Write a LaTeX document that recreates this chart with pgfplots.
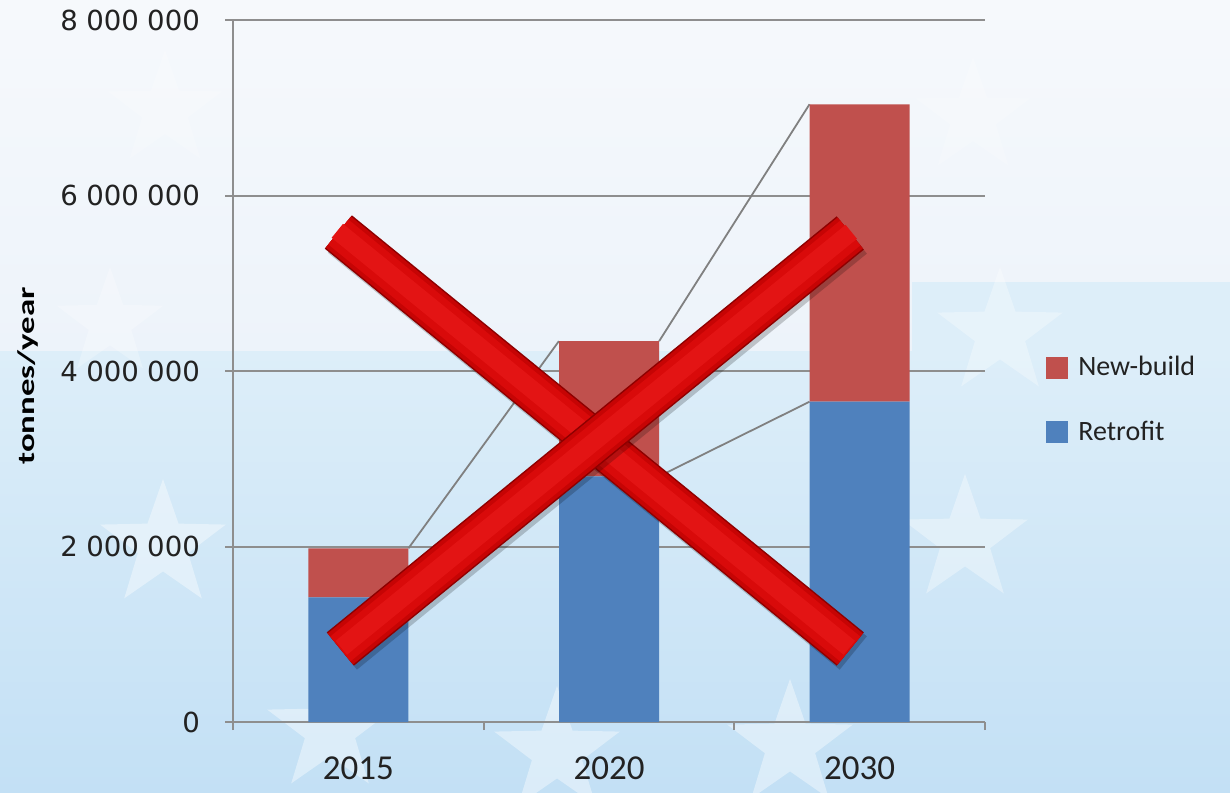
\documentclass[border=0pt]{standalone}
\usepackage{fontspec}
\setmainfont{Carlito}
\newfontfamily\dejavu{DejaVu Sans}
\usepackage{graphicx}
\usepackage{pgfplots}
\pgfplotsset{compat=1.18}
\usetikzlibrary{shapes.geometric}
\definecolor{barblue}{HTML}{4F81BD}
\definecolor{barred}{HTML}{C0504D}
\definecolor{gridgray}{HTML}{8E8E8E}
\definecolor{bgtop}{HTML}{F6F9FC}
\definecolor{bgmid}{HTML}{EDF3FA}
\definecolor{bglow1}{HTML}{DDEEF9}
\definecolor{bglow2}{HTML}{C3E0F5}
\definecolor{xedge}{HTML}{8E0000}
\definecolor{xmid}{HTML}{C60404}
\definecolor{xred}{HTML}{D90A0A}
\definecolor{xcore}{HTML}{E31414}
\definecolor{txt}{HTML}{222222}
\begin{document}
\begin{tikzpicture}[x=1pt,y=1pt]
\useasboundingbox (0,0) rectangle (615,396);
% background
\shade[top color=bgtop, bottom color=bgmid] (0,220) rectangle (615,396);
\shade[top color=bglow1, bottom color=bglow2] (0,0) rectangle (615,220);
\fill[bglow1] (456,220) rectangle (615,255);
% faint stars
\begin{scope}
\clip (0,0) rectangle (615,396);
\tikzset{bgstar/.style={star, star points=5, star point ratio=2.5, fill=white, draw=none, inner sep=0pt}}
\node[bgstar, opacity=0.40, minimum size=66pt] at (81.5,123.5) {};
\node[bgstar, opacity=0.25, minimum size=56pt] at (55,234.5) {};
\node[bgstar, opacity=0.20, minimum size=60pt] at (82.5,341) {};
\node[bgstar, opacity=0.40, minimum size=66pt] at (165,31) {};
\node[bgstar, opacity=0.40, minimum size=66pt] at (278.5,20) {};
\node[bgstar, opacity=0.40, minimum size=66pt] at (395,23.5) {};
\node[bgstar, opacity=0.35, minimum size=66pt] at (482.5,126) {};
\node[bgstar, opacity=0.30, minimum size=66pt] at (500,229.5) {};
\node[bgstar, opacity=0.20, minimum size=60pt] at (486.5,337.5) {};
\end{scope}
\begin{axis}[
  at={(116.5pt,35pt)}, anchor=south west,
  scale only axis, width=376pt, height=351pt,
  xmin=-0.5, xmax=2.5, ymin=0, ymax=8000000,
  ybar stacked, bar width=50pt,
  axis x line*=bottom, axis y line*=left,
  axis line style={gridgray, line width=1pt},
  ymajorgrids, grid style={gridgray, line width=1pt},
  tick align=outside,
  ytick={0,2000000,4000000,6000000,8000000},
  yticklabels={0,2\hspace{0.3em}000\hspace{0.3em}000,4\hspace{0.3em}000\hspace{0.3em}000,6\hspace{0.3em}000\hspace{0.3em}000,8\hspace{0.3em}000\hspace{0.3em}000},
  scaled y ticks=false,
  major tick length=4pt, minor tick length=4pt,
  ytick style={gridgray, line width=1pt},
  xtick={0,1,2}, xticklabels={2015,2020,2030},
  major x tick style={draw=none},
  minor xtick={-0.5,0.5,1.5,2.5},
  minor x tick style={gridgray, line width=1pt},
  yticklabel style={font=\dejavu\fontsize{13.8}{15}\selectfont, text=txt, xshift=-9pt},
  xticklabel style={font=\fontsize{17.5}{19}\selectfont, text=txt, yshift=-10pt},
  ylabel={\scalebox{1.45}[1]{\bfseries tonnes/year}},
  ylabel style={at={(axis description cs:-0.272,0.493)}, anchor=center, font=\fontsize{12}{13}\selectfont, text=black},
  legend image code/.code={\fill[#1] (0pt,-5.5pt) rectangle (11pt,5.5pt);},
  reverse legend,
  legend style={at={(rel axis cs:1.081,0.459)}, anchor=west, draw=none, fill=none,
    font=\fontsize{14}{16}\selectfont, text=txt, row sep=17pt, inner sep=0pt,
    /tikz/every even column/.append style={column sep=0pt}},
  legend cell align=left,
]
\addplot[fill=barblue, draw=none] coordinates {(0,1420000) (1,2800000) (2,3650000)};
\addlegendentry{\hspace{3pt}Retrofit}
\addplot[fill=barred, draw=none] coordinates {(0,560000) (1,1540000) (2,3390000)};
\addlegendentry{\hspace{3pt}New-build}
% series lines
\addplot[sharp plot, stack plots=false, draw=gridgray!90!black, line width=0.9pt, forget plot] coordinates {(0.2,1980000) (0.8,4340000)};
\addplot[sharp plot, stack plots=false, draw=gridgray!90!black, line width=0.9pt, forget plot] coordinates {(1.2,4340000) (1.8,7040000)};
\addplot[sharp plot, stack plots=false, draw=gridgray!90!black, line width=0.9pt, forget plot] coordinates {(0.2,1420000) (0.8,2800000)};
\addplot[sharp plot, stack plots=false, draw=gridgray!90!black, line width=0.9pt, forget plot] coordinates {(1.2,2800000) (1.8,3650000)};
% anchor points of the red cross overlay
\coordinate (A1) at (axis cs:-0.0798,5584000);
\coordinate (A2) at (axis cs:1.9625,832000);
\coordinate (B1) at (axis cs:-0.0718,832000);
\coordinate (B2) at (axis cs:1.9625,5573000);
\end{axis}
% red cross overlay
\begin{scope}[line cap=butt]
\draw[black, line width=21.5pt, opacity=0.2] ([shift={(1.5pt,-2pt)}]A1) -- ([shift={(1.5pt,-2pt)}]A2);
\draw[xedge, line width=21.5pt] (A1) -- (A2);
\draw[xmid, line width=20pt] (A1) -- (A2);
\draw[xred, line width=16pt] (A1) -- (A2);
\draw[xcore, line width=9pt] ([shift={(-0.5pt,0.6pt)}]A1) -- ([shift={(-0.5pt,0.6pt)}]A2);
\draw[black, line width=21.5pt, opacity=0.2] ([shift={(1.5pt,-2pt)}]B1) -- ([shift={(1.5pt,-2pt)}]B2);
\draw[xedge, line width=21.5pt] (B1) -- (B2);
\draw[xmid, line width=20pt] (B1) -- (B2);
\draw[xred, line width=16pt] (B1) -- (B2);
\draw[xcore, line width=9pt] ([shift={(0.5pt,0.6pt)}]B1) -- ([shift={(0.5pt,0.6pt)}]B2);
\end{scope}
\end{tikzpicture}
\end{document}
